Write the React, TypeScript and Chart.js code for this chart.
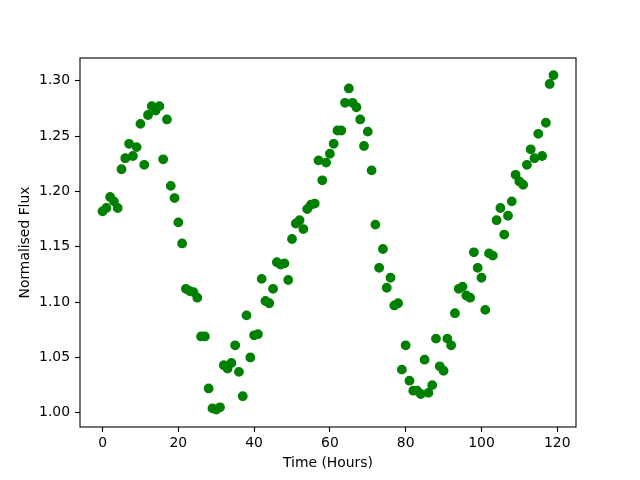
import React, { useEffect, useRef } from "react";
import { Chart, registerables } from "chart.js";

Chart.register(...registerables);

const timeHours = [
  0, 1, 2, 3, 4, 5, 6, 7, 8, 9, 10, 11, 12, 13, 14, 15, 16, 17, 18, 19,
  20, 21, 22, 23, 24, 25, 26, 27, 28, 29, 30, 31, 32, 33, 34, 35, 36, 37, 38, 39,
  40, 41, 42, 43, 44, 45, 46, 47, 48, 49, 50, 51, 52, 53, 54, 55, 56, 57, 58, 59,
  60, 61, 62, 63, 64, 65, 66, 67, 68, 69, 70, 71, 72, 73, 74, 75, 76, 77, 78, 79,
  80, 81, 82, 83, 84, 85, 86, 87, 88, 89, 90, 91, 92, 93, 94, 95, 96, 97, 98, 99,
  100, 101, 102, 103, 104, 105, 106, 107, 108, 109, 110, 111, 112, 113, 114, 115, 116, 117, 118, 119,
];

const normalisedFlux = [
  1.182, 1.185, 1.195, 1.191, 1.185, 1.220, 1.230, 1.243, 1.232, 1.240,
  1.261, 1.224, 1.269, 1.277, 1.273, 1.277, 1.229, 1.265, 1.205, 1.194,
  1.172, 1.153, 1.112, 1.110, 1.109, 1.104, 1.069, 1.069, 1.022, 1.004,
  1.003, 1.005, 1.043, 1.040, 1.045, 1.061, 1.037, 1.015, 1.088, 1.050,
  1.070, 1.071, 1.121, 1.101, 1.099, 1.112, 1.136, 1.134, 1.135, 1.120,
  1.157, 1.171, 1.174, 1.166, 1.184, 1.188, 1.189, 1.228, 1.210, 1.226,
  1.234, 1.243, 1.255, 1.255, 1.280, 1.293, 1.280, 1.276, 1.265, 1.241,
  1.254, 1.219, 1.170, 1.131, 1.148, 1.113, 1.122, 1.097, 1.099, 1.039,
  1.061, 1.029, 1.020, 1.020, 1.017, 1.048, 1.018, 1.025, 1.067, 1.042,
  1.038, 1.067, 1.061, 1.090, 1.112, 1.114, 1.106, 1.104, 1.145, 1.131,
  1.122, 1.093, 1.144, 1.142, 1.174, 1.185, 1.161, 1.178, 1.191, 1.215,
  1.209, 1.206, 1.224, 1.238, 1.230, 1.252, 1.232, 1.262, 1.297, 1.305,
];

const xTicks = [0, 20, 40, 60, 80, 100, 120];
const yTicks = [1.0, 1.05, 1.1, 1.15, 1.2, 1.25, 1.3];

const xLabel = "Time (Hours)";
const yLabel = "Normalised Flux";

const FONT = { family: "'DejaVu Sans', sans-serif", size: 13.9 };

const framePlugin = {
  id: "frame",
  afterDatasetsDraw(chart: any) {
    const { ctx, chartArea } = chart;
    ctx.save();
    ctx.strokeStyle = "#000";
    ctx.lineWidth = 1.1;
    ctx.strokeRect(
      chartArea.left,
      chartArea.top,
      chartArea.right - chartArea.left,
      chartArea.bottom - chartArea.top
    );
    ctx.restore();
  },
};

export default function App() {
  const canvasRef = useRef<HTMLCanvasElement | null>(null);

  useEffect(() => {
    if (!canvasRef.current) return;
    const points = timeHours.map((t, i) => ({ x: t, y: normalisedFlux[i] }));
    const chart = new Chart(canvasRef.current, {
      type: "scatter",
      data: {
        datasets: [
          {
            data: points,
            backgroundColor: "#008000",
            borderColor: "#008000",
            borderWidth: 1.4,
            pointRadius: 4.2,
            pointHoverRadius: 4.2,
          },
        ],
      },
      options: {
        animation: false,
        responsive: false,
        maintainAspectRatio: false,
        layout: { padding: { left: 0, right: 64, top: 58, bottom: 0 } },
        plugins: {
          legend: { display: false },
          tooltip: { enabled: false },
        },
        scales: {
          x: {
            type: "linear",
            min: -5.95,
            max: 124.95,
            afterFit: (scale: any) => {
              scale.height = 53;
            },
            afterBuildTicks: (scale: any) => {
              scale.ticks = xTicks.map((v) => ({ value: v }));
            },
            ticks: {
              color: "#000",
              font: FONT,
              padding: 3,
              maxRotation: 0,
              autoSkip: false,
              callback: (v: any) => String(v),
            },
            grid: {
              display: true,
              drawOnChartArea: false,
              drawTicks: true,
              tickLength: 5,
              tickWidth: 1.1,
              tickColor: "#000",
            },
            border: { display: false },
            title: {
              display: true,
              text: xLabel,
              color: "#000",
              font: FONT,
              padding: { top: 0, bottom: 8 },
            },
          },
          y: {
            type: "linear",
            min: 0.9872,
            max: 1.3205,
            afterFit: (scale: any) => {
              scale.width = 80;
            },
            afterBuildTicks: (scale: any) => {
              scale.ticks = yTicks.map((v) => ({ value: v }));
            },
            ticks: {
              color: "#000",
              font: FONT,
              padding: 5,
              autoSkip: false,
              callback: (v: any) => Number(v).toFixed(2),
            },
            grid: {
              display: true,
              drawOnChartArea: false,
              drawTicks: true,
              tickLength: 5,
              tickWidth: 1.1,
              tickColor: "#000",
            },
            border: { display: false },
            title: {
              display: true,
              text: yLabel,
              color: "#000",
              font: FONT,
              padding: { top: 17, bottom: 0 },
            },
          },
        },
      },
      plugins: [framePlugin],
    });
    return () => chart.destroy();
  }, []);

  return (
    <div style={{ position: "fixed", left: 0, top: 0, width: 640, height: 480, background: "#fff" }}>
      <canvas ref={canvasRef} width={640} height={480} />
    </div>
  );
}
